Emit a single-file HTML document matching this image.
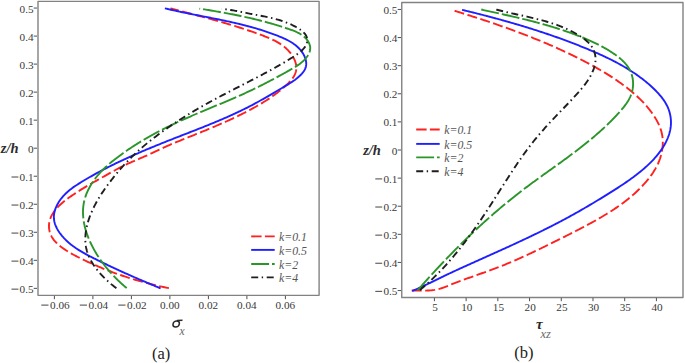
<!DOCTYPE html>
<html><head><meta charset="utf-8"><style>
html,body{margin:0;padding:0;background:#fff;}
svg{display:block;}
text{font-family:"Liberation Serif", serif;}
</style></head><body>
<svg width="685" height="363" viewBox="0 0 685 363">
<rect width="685" height="363" fill="#fff"/><g fill="#3a3a3a">
<rect x="38.0" y="1.4" width="281.1" height="293.95" fill="none" stroke="#828282" stroke-width="1.4" stroke-linejoin="round"/>
<line x1="33.70" y1="288.35" x2="37.00" y2="288.35" stroke="#505050" stroke-width="1"/>
<text x="33.60" y="292.95" font-size="11.2" text-anchor="end" >0.5</text>
<line x1="11.50" y1="289.15" x2="18.40" y2="289.15" stroke="#3a3a3a" stroke-width="0.95"/>
<line x1="33.70" y1="260.32" x2="37.00" y2="260.32" stroke="#505050" stroke-width="1"/>
<text x="33.60" y="264.92" font-size="11.2" text-anchor="end" >0.4</text>
<line x1="11.50" y1="261.12" x2="18.40" y2="261.12" stroke="#3a3a3a" stroke-width="0.95"/>
<line x1="33.70" y1="232.29" x2="37.00" y2="232.29" stroke="#505050" stroke-width="1"/>
<text x="33.60" y="236.89" font-size="11.2" text-anchor="end" >0.3</text>
<line x1="11.50" y1="233.09" x2="18.40" y2="233.09" stroke="#3a3a3a" stroke-width="0.95"/>
<line x1="33.70" y1="204.26" x2="37.00" y2="204.26" stroke="#505050" stroke-width="1"/>
<text x="33.60" y="208.86" font-size="11.2" text-anchor="end" >0.2</text>
<line x1="11.50" y1="205.06" x2="18.40" y2="205.06" stroke="#3a3a3a" stroke-width="0.95"/>
<line x1="33.70" y1="176.23" x2="37.00" y2="176.23" stroke="#505050" stroke-width="1"/>
<text x="33.60" y="180.83" font-size="11.2" text-anchor="end" >0.1</text>
<line x1="11.50" y1="177.03" x2="18.40" y2="177.03" stroke="#3a3a3a" stroke-width="0.95"/>
<line x1="33.70" y1="148.20" x2="37.00" y2="148.20" stroke="#505050" stroke-width="1"/>
<text x="33.60" y="152.80" font-size="11.2" text-anchor="end" >0</text>
<line x1="33.70" y1="120.17" x2="37.00" y2="120.17" stroke="#505050" stroke-width="1"/>
<text x="33.60" y="124.77" font-size="11.2" text-anchor="end" >0.1</text>
<line x1="33.70" y1="92.14" x2="37.00" y2="92.14" stroke="#505050" stroke-width="1"/>
<text x="33.60" y="96.74" font-size="11.2" text-anchor="end" >0.2</text>
<line x1="33.70" y1="64.11" x2="37.00" y2="64.11" stroke="#505050" stroke-width="1"/>
<text x="33.60" y="68.71" font-size="11.2" text-anchor="end" >0.3</text>
<line x1="33.70" y1="36.08" x2="37.00" y2="36.08" stroke="#505050" stroke-width="1"/>
<text x="33.60" y="40.68" font-size="11.2" text-anchor="end" >0.4</text>
<line x1="33.70" y1="8.05" x2="37.00" y2="8.05" stroke="#505050" stroke-width="1"/>
<text x="33.60" y="12.65" font-size="11.2" text-anchor="end" >0.5</text>
<line x1="54.40" y1="295.90" x2="54.40" y2="299.20" stroke="#505050" stroke-width="1"/>
<line x1="41.30" y1="305.10" x2="48.50" y2="305.10" stroke="#3a3a3a" stroke-width="0.95"/>
<text x="59.85" y="308.70" font-size="11.2" text-anchor="middle" >0.06</text>
<line x1="92.90" y1="295.90" x2="92.90" y2="299.20" stroke="#505050" stroke-width="1"/>
<line x1="79.80" y1="305.10" x2="87.00" y2="305.10" stroke="#3a3a3a" stroke-width="0.95"/>
<text x="98.35" y="308.70" font-size="11.2" text-anchor="middle" >0.04</text>
<line x1="131.40" y1="295.90" x2="131.40" y2="299.20" stroke="#505050" stroke-width="1"/>
<line x1="118.30" y1="305.10" x2="125.50" y2="305.10" stroke="#3a3a3a" stroke-width="0.95"/>
<text x="136.85" y="308.70" font-size="11.2" text-anchor="middle" >0.02</text>
<line x1="169.90" y1="295.90" x2="169.90" y2="299.20" stroke="#505050" stroke-width="1"/>
<text x="169.80" y="308.70" font-size="11.2" text-anchor="middle" >0.00</text>
<line x1="208.40" y1="295.90" x2="208.40" y2="299.20" stroke="#505050" stroke-width="1"/>
<text x="208.30" y="308.70" font-size="11.2" text-anchor="middle" >0.02</text>
<line x1="246.90" y1="295.90" x2="246.90" y2="299.20" stroke="#505050" stroke-width="1"/>
<text x="246.80" y="308.70" font-size="11.2" text-anchor="middle" >0.04</text>
<line x1="285.40" y1="295.90" x2="285.40" y2="299.20" stroke="#505050" stroke-width="1"/>
<text x="285.30" y="308.70" font-size="11.2" text-anchor="middle" >0.06</text>
<rect x="401.75" y="2.55" width="281.25" height="294.95" fill="none" stroke="#828282" stroke-width="1.4" stroke-linejoin="round"/>
<line x1="397.70" y1="290.55" x2="401.00" y2="290.55" stroke="#505050" stroke-width="1"/>
<text x="397.40" y="295.15" font-size="11.2" text-anchor="end" >0.5</text>
<line x1="375.30" y1="291.35" x2="382.20" y2="291.35" stroke="#3a3a3a" stroke-width="0.95"/>
<line x1="397.70" y1="262.44" x2="401.00" y2="262.44" stroke="#505050" stroke-width="1"/>
<text x="397.40" y="267.04" font-size="11.2" text-anchor="end" >0.4</text>
<line x1="375.30" y1="263.24" x2="382.20" y2="263.24" stroke="#3a3a3a" stroke-width="0.95"/>
<line x1="397.70" y1="234.33" x2="401.00" y2="234.33" stroke="#505050" stroke-width="1"/>
<text x="397.40" y="238.93" font-size="11.2" text-anchor="end" >0.3</text>
<line x1="375.30" y1="235.13" x2="382.20" y2="235.13" stroke="#3a3a3a" stroke-width="0.95"/>
<line x1="397.70" y1="206.22" x2="401.00" y2="206.22" stroke="#505050" stroke-width="1"/>
<text x="397.40" y="210.82" font-size="11.2" text-anchor="end" >0.2</text>
<line x1="375.30" y1="207.02" x2="382.20" y2="207.02" stroke="#3a3a3a" stroke-width="0.95"/>
<line x1="397.70" y1="178.11" x2="401.00" y2="178.11" stroke="#505050" stroke-width="1"/>
<text x="397.40" y="182.71" font-size="11.2" text-anchor="end" >0.1</text>
<line x1="375.30" y1="178.91" x2="382.20" y2="178.91" stroke="#3a3a3a" stroke-width="0.95"/>
<line x1="397.70" y1="150.00" x2="401.00" y2="150.00" stroke="#505050" stroke-width="1"/>
<text x="397.40" y="154.60" font-size="11.2" text-anchor="end" >0</text>
<line x1="397.70" y1="121.89" x2="401.00" y2="121.89" stroke="#505050" stroke-width="1"/>
<text x="397.40" y="126.49" font-size="11.2" text-anchor="end" >0.1</text>
<line x1="397.70" y1="93.78" x2="401.00" y2="93.78" stroke="#505050" stroke-width="1"/>
<text x="397.40" y="98.38" font-size="11.2" text-anchor="end" >0.2</text>
<line x1="397.70" y1="65.67" x2="401.00" y2="65.67" stroke="#505050" stroke-width="1"/>
<text x="397.40" y="70.27" font-size="11.2" text-anchor="end" >0.3</text>
<line x1="397.70" y1="37.56" x2="401.00" y2="37.56" stroke="#505050" stroke-width="1"/>
<text x="397.40" y="42.16" font-size="11.2" text-anchor="end" >0.4</text>
<line x1="397.70" y1="9.45" x2="401.00" y2="9.45" stroke="#505050" stroke-width="1"/>
<text x="397.40" y="14.05" font-size="11.2" text-anchor="end" >0.5</text>
<line x1="434.41" y1="297.90" x2="434.41" y2="301.20" stroke="#505050" stroke-width="1"/>
<text x="435.01" y="311.20" font-size="11.2" text-anchor="middle" >5</text>
<line x1="466.13" y1="297.90" x2="466.13" y2="301.20" stroke="#505050" stroke-width="1"/>
<text x="466.73" y="311.20" font-size="11.2" text-anchor="middle" >10</text>
<line x1="497.84" y1="297.90" x2="497.84" y2="301.20" stroke="#505050" stroke-width="1"/>
<text x="498.44" y="311.20" font-size="11.2" text-anchor="middle" >15</text>
<line x1="529.56" y1="297.90" x2="529.56" y2="301.20" stroke="#505050" stroke-width="1"/>
<text x="530.16" y="311.20" font-size="11.2" text-anchor="middle" >20</text>
<line x1="561.27" y1="297.90" x2="561.27" y2="301.20" stroke="#505050" stroke-width="1"/>
<text x="561.88" y="311.20" font-size="11.2" text-anchor="middle" >25</text>
<line x1="592.99" y1="297.90" x2="592.99" y2="301.20" stroke="#505050" stroke-width="1"/>
<text x="593.59" y="311.20" font-size="11.2" text-anchor="middle" >30</text>
<line x1="624.70" y1="297.90" x2="624.70" y2="301.20" stroke="#505050" stroke-width="1"/>
<text x="625.30" y="311.20" font-size="11.2" text-anchor="middle" >35</text>
<line x1="656.42" y1="297.90" x2="656.42" y2="301.20" stroke="#505050" stroke-width="1"/>
<text x="657.02" y="311.20" font-size="11.2" text-anchor="middle" >40</text>
<text x="0.8" y="153.4" font-size="14.5" font-weight="bold" font-style="italic" fill="#2c2c2c">z/h</text>
<text x="363.2" y="155" font-size="14.5" font-weight="bold" font-style="italic" fill="#2c2c2c">z/h</text>
<g transform="translate(176.2,323.9) skewX(-8)"><ellipse cx="0" cy="0.1" rx="3.15" ry="2.95" fill="none" stroke="#2a2a2a" stroke-width="1.55"/><path d="M0.2,-3.35 L5.8,-3.55" stroke="#2a2a2a" stroke-width="1.5"/></g>
<text x="179.4" y="334.5" font-size="11.5" font-style="italic" fill="#666">x</text>
<text x="536.0" y="329" font-size="15" font-weight="bold" font-style="italic" fill="#2a2a2a">τ</text>
<text x="540.5" y="337.6" font-size="12.5" font-style="italic" fill="#6a6a6a">xz</text>
<text x="152" y="358.5" font-size="16.5" fill="#222">(a)</text>
<text x="514.2" y="357.5" font-size="16.5" fill="#222">(b)</text>
<line x1="251.20" y1="236.40" x2="274.70" y2="236.40" stroke="#ff2020" stroke-width="1.9" stroke-dasharray="10.4 3.3"/>
<text x="279.00" y="241.10" font-size="11.8" font-style="italic" fill="#555">k=0.1</text>
<line x1="251.20" y1="249.90" x2="274.70" y2="249.90" stroke="#2020ff" stroke-width="1.9"/>
<text x="279.00" y="254.60" font-size="11.8" font-style="italic" fill="#555">k=0.5</text>
<line x1="251.20" y1="264.00" x2="274.70" y2="264.00" stroke="#2a962a" stroke-width="1.9" stroke-dasharray="17.9 2.9"/>
<text x="279.00" y="268.70" font-size="11.8" font-style="italic" fill="#555">k=2</text>
<line x1="251.20" y1="277.40" x2="274.70" y2="277.40" stroke="#1e1e1e" stroke-width="1.9" stroke-dasharray="7 3.5 1.4 3.6"/>
<text x="279.00" y="282.10" font-size="11.8" font-style="italic" fill="#555">k=4</text>
<line x1="416.20" y1="129.50" x2="439.70" y2="129.50" stroke="#ff2020" stroke-width="1.9" stroke-dasharray="10.4 3.3"/>
<text x="444.20" y="134.20" font-size="11.8" font-style="italic" fill="#555">k=0.1</text>
<line x1="416.20" y1="143.90" x2="439.70" y2="143.90" stroke="#2020ff" stroke-width="1.9"/>
<text x="444.20" y="148.60" font-size="11.8" font-style="italic" fill="#555">k=0.5</text>
<line x1="416.20" y1="157.40" x2="439.70" y2="157.40" stroke="#2a962a" stroke-width="1.9" stroke-dasharray="17.9 2.9"/>
<text x="444.20" y="162.10" font-size="11.8" font-style="italic" fill="#555">k=2</text>
<line x1="416.20" y1="171.30" x2="439.70" y2="171.30" stroke="#1e1e1e" stroke-width="1.9" stroke-dasharray="7 3.5 1.4 3.6"/>
<text x="444.20" y="176.00" font-size="11.8" font-style="italic" fill="#555">k=4</text>
</g>
<path d="M168.93,288.18 L167.48,287.88 L166.04,287.58 L164.59,287.27 L163.15,286.96 L161.70,286.64 L160.26,286.32 L158.82,285.99 L157.38,285.65 L155.94,285.31 L154.50,284.97 L153.06,284.61 L151.63,284.26 L150.20,283.90 L148.76,283.53 L147.33,283.16 L145.90,282.78 L144.48,282.39 L143.05,282.01 L141.63,281.61 L140.20,281.21 L138.78,280.81 L137.36,280.39 L135.94,279.98 L134.53,279.56 L133.11,279.13 L131.70,278.69 L130.29,278.26 L128.88,277.81 L127.47,277.36 L126.07,276.90 L124.67,276.44 L123.27,275.98 L121.87,275.50 L120.47,275.02 L119.07,274.54 L117.68,274.05 L116.29,273.55 L114.90,273.05 L113.52,272.54 L112.13,272.03 L110.75,271.51 L109.37,270.98 L107.99,270.45 L106.62,269.92 L105.25,269.37 L103.88,268.83 L102.51,268.27 L101.14,267.71 L99.78,267.14 L98.42,266.57 L97.07,265.99 L95.71,265.41 L94.36,264.82 L93.01,264.22 L91.66,263.62 L90.32,263.01 L88.98,262.39 L87.64,261.77 L86.31,261.15 L84.97,260.51 L83.64,259.87 L82.32,259.23 L80.99,258.58 L79.67,257.92 L78.36,257.26 L77.04,256.59 L75.73,255.91 L74.43,255.22 L73.13,254.52 L71.83,253.81 L70.55,253.08 L69.27,252.33 L68.00,251.57 L66.74,250.78 L65.50,249.98 L64.26,249.15 L63.04,248.29 L61.83,247.40 L60.63,246.49 L59.46,245.54 L58.31,244.57 L57.20,243.55 L56.13,242.50 L55.11,241.41 L54.14,240.28 L53.25,239.11 L52.42,237.89 L51.67,236.62 L51.01,235.31 L50.44,233.96 L49.95,232.57 L49.56,231.16 L49.27,229.73 L49.07,228.28 L48.98,226.82 L48.98,225.37 L49.09,223.91 L49.29,222.47 L49.59,221.05 L49.97,219.65 L50.43,218.29 L50.97,216.96 L51.58,215.66 L52.25,214.39 L52.99,213.16 L53.78,211.95 L54.64,210.77 L55.54,209.61 L56.49,208.49 L57.49,207.39 L58.52,206.31 L59.60,205.26 L60.70,204.23 L61.84,203.22 L63.00,202.24 L64.18,201.27 L65.38,200.33 L66.60,199.40 L67.82,198.49 L69.05,197.59 L70.28,196.71 L71.51,195.85 L72.75,195.00 L73.98,194.16 L75.22,193.34 L76.46,192.53 L77.70,191.73 L78.94,190.94 L80.18,190.16 L81.42,189.39 L82.67,188.63 L83.92,187.87 L85.17,187.12 L86.42,186.38 L87.67,185.65 L88.93,184.92 L90.18,184.19 L91.44,183.47 L92.71,182.76 L93.97,182.04 L95.24,181.32 L96.51,180.61 L97.78,179.90 L99.05,179.18 L100.33,178.47 L101.61,177.75 L102.90,177.03 L104.18,176.31 L105.47,175.59 L106.76,174.86 L108.06,174.12 L109.36,173.39 L110.66,172.65 L111.96,171.91 L113.27,171.18 L114.58,170.46 L115.90,169.73 L117.21,169.02 L118.53,168.31 L119.85,167.62 L121.18,166.94 L122.51,166.27 L123.84,165.62 L125.17,164.98 L126.51,164.35 L127.84,163.73 L129.18,163.13 L130.52,162.53 L131.86,161.94 L133.21,161.36 L134.55,160.78 L135.90,160.20 L137.24,159.63 L138.59,159.06 L139.93,158.48 L141.28,157.91 L142.62,157.33 L143.97,156.74 L145.31,156.15 L146.66,155.55 L148.00,154.94 L149.34,154.33 L150.68,153.71 L152.02,153.09 L153.36,152.46 L154.70,151.83 L156.03,151.20 L157.37,150.57 L158.71,149.94 L160.05,149.31 L161.39,148.68 L162.73,148.05 L164.08,147.43 L165.42,146.82 L166.77,146.21 L168.11,145.60 L169.46,145.01 L170.81,144.42 L172.16,143.85 L173.52,143.28 L174.87,142.72 L176.23,142.16 L177.59,141.61 L178.95,141.06 L180.31,140.51 L181.67,139.96 L183.04,139.42 L184.40,138.87 L185.77,138.32 L187.13,137.77 L188.50,137.22 L189.87,136.68 L191.24,136.13 L192.61,135.58 L193.98,135.02 L195.35,134.47 L196.72,133.92 L198.09,133.37 L199.46,132.81 L200.83,132.25 L202.20,131.69 L203.57,131.13 L204.94,130.57 L206.30,130.01 L207.67,129.44 L209.04,128.88 L210.41,128.31 L211.77,127.73 L213.14,127.16 L214.50,126.58 L215.86,126.00 L217.22,125.42 L218.58,124.83 L219.94,124.24 L221.30,123.65 L222.65,123.06 L224.00,122.46 L225.35,121.85 L226.70,121.25 L228.05,120.64 L229.40,120.03 L230.74,119.41 L232.08,118.79 L233.42,118.16 L234.75,117.53 L236.08,116.89 L237.41,116.25 L238.74,115.61 L240.07,114.96 L241.39,114.31 L242.70,113.65 L244.02,112.98 L245.33,112.31 L246.64,111.64 L247.94,110.96 L249.24,110.27 L250.54,109.58 L251.83,108.88 L253.12,108.18 L254.41,107.47 L255.69,106.75 L256.97,106.03 L258.24,105.30 L259.51,104.56 L260.77,103.81 L262.03,103.06 L263.28,102.30 L264.53,101.53 L265.77,100.75 L267.01,99.96 L268.24,99.16 L269.47,98.35 L270.69,97.52 L271.90,96.68 L273.11,95.83 L274.31,94.97 L275.51,94.09 L276.69,93.20 L277.87,92.29 L279.05,91.37 L280.21,90.43 L281.37,89.47 L282.52,88.50 L283.66,87.51 L284.79,86.50 L285.92,85.47 L287.04,84.42 L288.14,83.36 L289.21,82.27 L290.25,81.15 L291.24,80.01 L292.17,78.84 L293.04,77.65 L293.82,76.42 L294.52,75.17 L295.11,73.88 L295.60,72.55 L295.97,71.20 L296.21,69.83 L296.34,68.44 L296.34,67.05 L296.22,65.66 L295.99,64.27 L295.65,62.89 L295.22,61.51 L294.69,60.15 L294.08,58.80 L293.39,57.48 L292.62,56.18 L291.79,54.91 L290.90,53.67 L289.95,52.47 L288.96,51.30 L287.93,50.18 L286.85,49.11 L285.75,48.08 L284.63,47.11 L283.47,46.17 L282.29,45.28 L281.08,44.43 L279.85,43.62 L278.61,42.85 L277.34,42.10 L276.05,41.39 L274.75,40.71 L273.43,40.05 L272.10,39.42 L270.75,38.81 L269.40,38.22 L268.03,37.64 L266.66,37.09 L265.28,36.54 L263.90,36.01 L262.51,35.48 L261.12,34.96 L259.73,34.45 L258.34,33.94 L256.95,33.43 L255.55,32.93 L254.16,32.44 L252.76,31.95 L251.37,31.46 L249.97,30.98 L248.57,30.50 L247.17,30.03 L245.77,29.56 L244.36,29.10 L242.96,28.64 L241.56,28.18 L240.15,27.73 L238.74,27.28 L237.34,26.83 L235.93,26.39 L234.52,25.95 L233.11,25.52 L231.70,25.09 L230.28,24.66 L228.87,24.23 L227.46,23.81 L226.04,23.39 L224.63,22.97 L223.21,22.56 L221.79,22.15 L220.37,21.74 L218.96,21.34 L217.54,20.93 L216.12,20.53 L214.70,20.13 L213.28,19.73 L211.85,19.34 L210.43,18.95 L209.01,18.56 L207.58,18.17 L206.16,17.78 L204.73,17.39 L203.31,17.01 L201.88,16.63 L200.46,16.24 L199.03,15.86 L197.60,15.49 L196.17,15.11 L194.75,14.73 L193.32,14.35 L191.89,13.98 L190.46,13.60 L189.03,13.23 L187.60,12.86 L186.17,12.48 L184.74,12.11 L183.31,11.74 L181.87,11.36 L180.44,10.99 L179.01,10.62 L177.58,10.25 L176.15,9.87 L174.71,9.50 L173.28,9.13 L171.85,8.75 L170.42,8.38" fill="none" stroke="#ff2020" stroke-width="1.9" stroke-dasharray="10 3.5"/>
<path d="M160.61,288.35 L159.22,287.78 L157.83,287.20 L156.44,286.63 L155.06,286.05 L153.67,285.47 L152.29,284.89 L150.91,284.31 L149.52,283.73 L148.14,283.15 L146.77,282.57 L145.39,281.98 L144.01,281.39 L142.64,280.81 L141.27,280.22 L139.90,279.63 L138.53,279.04 L137.16,278.44 L135.79,277.85 L134.42,277.25 L133.06,276.65 L131.69,276.05 L130.33,275.45 L128.97,274.85 L127.60,274.24 L126.24,273.63 L124.88,273.02 L123.53,272.41 L122.17,271.80 L120.81,271.18 L119.46,270.56 L118.10,269.94 L116.75,269.32 L115.39,268.69 L114.04,268.06 L112.69,267.43 L111.34,266.80 L109.99,266.16 L108.64,265.52 L107.29,264.88 L105.94,264.23 L104.60,263.59 L103.25,262.94 L101.90,262.28 L100.56,261.62 L99.21,260.97 L97.87,260.30 L96.52,259.64 L95.18,258.97 L93.84,258.29 L92.49,257.62 L91.15,256.93 L89.82,256.25 L88.48,255.55 L87.16,254.85 L85.83,254.13 L84.52,253.41 L83.21,252.67 L81.92,251.92 L80.63,251.15 L79.35,250.37 L78.09,249.58 L76.84,248.76 L75.60,247.93 L74.38,247.08 L73.17,246.20 L71.98,245.31 L70.81,244.39 L69.66,243.45 L68.52,242.48 L67.41,241.49 L66.32,240.46 L65.26,239.41 L64.21,238.33 L63.19,237.22 L62.20,236.08 L61.24,234.90 L60.31,233.70 L59.42,232.46 L58.58,231.20 L57.78,229.92 L57.05,228.61 L56.37,227.28 L55.77,225.93 L55.23,224.56 L54.78,223.18 L54.41,221.78 L54.13,220.37 L53.95,218.96 L53.86,217.53 L53.88,216.09 L54.00,214.66 L54.22,213.22 L54.52,211.78 L54.91,210.35 L55.38,208.93 L55.92,207.53 L56.54,206.13 L57.22,204.76 L57.96,203.41 L58.76,202.08 L59.61,200.78 L60.50,199.52 L61.44,198.28 L62.41,197.09 L63.42,195.93 L64.45,194.82 L65.51,193.75 L66.59,192.71 L67.70,191.71 L68.83,190.74 L69.98,189.80 L71.15,188.89 L72.33,188.01 L73.53,187.14 L74.74,186.30 L75.97,185.48 L77.20,184.67 L78.45,183.87 L79.70,183.09 L80.96,182.31 L82.22,181.54 L83.48,180.78 L84.75,180.02 L86.03,179.26 L87.30,178.51 L88.58,177.77 L89.87,177.03 L91.15,176.30 L92.44,175.57 L93.73,174.85 L95.03,174.13 L96.33,173.41 L97.63,172.70 L98.94,172.00 L100.25,171.30 L101.56,170.60 L102.87,169.91 L104.19,169.22 L105.51,168.54 L106.83,167.86 L108.16,167.19 L109.49,166.52 L110.82,165.85 L112.15,165.19 L113.48,164.53 L114.82,163.87 L116.16,163.22 L117.51,162.58 L118.85,161.93 L120.20,161.29 L121.55,160.66 L122.90,160.02 L124.25,159.39 L125.61,158.77 L126.97,158.15 L128.33,157.53 L129.69,156.91 L131.05,156.30 L132.42,155.69 L133.79,155.08 L135.16,154.47 L136.53,153.87 L137.90,153.27 L139.27,152.68 L140.65,152.09 L142.02,151.49 L143.40,150.91 L144.78,150.32 L146.16,149.74 L147.54,149.16 L148.93,148.58 L150.31,148.00 L151.70,147.43 L153.08,146.85 L154.47,146.28 L155.86,145.72 L157.25,145.15 L158.64,144.58 L160.03,144.02 L161.42,143.46 L162.81,142.90 L164.20,142.34 L165.60,141.79 L166.99,141.23 L168.38,140.68 L169.78,140.13 L171.17,139.58 L172.57,139.03 L173.97,138.48 L175.36,137.93 L176.76,137.39 L178.16,136.84 L179.55,136.29 L180.95,135.75 L182.34,135.21 L183.74,134.66 L185.14,134.12 L186.53,133.58 L187.93,133.03 L189.32,132.49 L190.72,131.95 L192.11,131.40 L193.51,130.86 L194.90,130.31 L196.29,129.77 L197.69,129.22 L199.08,128.67 L200.47,128.12 L201.86,127.57 L203.25,127.02 L204.63,126.47 L206.02,125.91 L207.41,125.35 L208.79,124.79 L210.17,124.23 L211.56,123.67 L212.94,123.10 L214.32,122.53 L215.69,121.96 L217.07,121.39 L218.44,120.81 L219.82,120.23 L221.19,119.65 L222.56,119.06 L223.93,118.47 L225.29,117.88 L226.66,117.28 L228.02,116.68 L229.38,116.07 L230.74,115.46 L232.09,114.85 L233.45,114.23 L234.80,113.61 L236.15,112.98 L237.50,112.35 L238.84,111.71 L240.18,111.07 L241.52,110.42 L242.86,109.77 L244.19,109.11 L245.53,108.45 L246.86,107.78 L248.18,107.10 L249.50,106.42 L250.82,105.73 L252.14,105.04 L253.46,104.34 L254.77,103.64 L256.08,102.93 L257.39,102.21 L258.69,101.49 L260.00,100.77 L261.30,100.04 L262.60,99.31 L263.90,98.57 L265.20,97.83 L266.49,97.09 L267.79,96.34 L269.08,95.59 L270.38,94.83 L271.67,94.08 L272.97,93.32 L274.26,92.56 L275.55,91.80 L276.85,91.03 L278.14,90.27 L279.44,89.50 L280.73,88.73 L282.03,87.96 L283.33,87.19 L284.63,86.42 L285.93,85.65 L287.22,84.87 L288.52,84.09 L289.80,83.29 L291.08,82.48 L292.35,81.65 L293.60,80.79 L294.83,79.91 L296.04,79.00 L297.23,78.05 L298.40,77.07 L299.53,76.04 L300.64,74.97 L301.71,73.84 L302.72,72.67 L303.64,71.46 L304.45,70.21 L305.12,68.93 L305.63,67.61 L305.97,66.26 L306.17,64.89 L306.22,63.51 L306.14,62.11 L305.93,60.72 L305.60,59.33 L305.16,57.95 L304.62,56.58 L303.98,55.24 L303.26,53.92 L302.46,52.64 L301.59,51.40 L300.66,50.21 L299.68,49.07 L298.65,47.99 L297.58,46.96 L296.47,45.98 L295.32,45.04 L294.13,44.15 L292.91,43.30 L291.66,42.49 L290.39,41.72 L289.08,40.98 L287.76,40.27 L286.41,39.59 L285.05,38.94 L283.67,38.31 L282.28,37.70 L280.89,37.10 L279.48,36.53 L278.08,35.96 L276.67,35.41 L275.25,34.86 L273.84,34.33 L272.43,33.80 L271.01,33.29 L269.59,32.78 L268.17,32.29 L266.75,31.80 L265.33,31.32 L263.90,30.86 L262.48,30.40 L261.05,29.94 L259.62,29.50 L258.19,29.06 L256.75,28.64 L255.32,28.21 L253.88,27.80 L252.45,27.39 L251.01,27.00 L249.57,26.60 L248.13,26.22 L246.69,25.84 L245.25,25.46 L243.80,25.09 L242.36,24.73 L240.91,24.38 L239.46,24.02 L238.01,23.68 L236.56,23.34 L235.11,23.00 L233.66,22.67 L232.21,22.34 L230.75,22.01 L229.30,21.69 L227.84,21.38 L226.39,21.06 L224.93,20.75 L223.47,20.45 L222.02,20.14 L220.56,19.84 L219.10,19.54 L217.64,19.25 L216.17,18.95 L214.71,18.66 L213.25,18.37 L211.79,18.08 L210.33,17.79 L208.86,17.50 L207.40,17.21 L205.93,16.93 L204.47,16.64 L203.00,16.35 L201.54,16.07 L200.07,15.78 L198.60,15.50 L197.14,15.21 L195.67,14.92 L194.20,14.63 L192.74,14.34 L191.27,14.05 L189.80,13.76 L188.34,13.46 L186.87,13.16 L185.40,12.86 L183.93,12.56 L182.47,12.26 L181.00,11.95 L179.53,11.64 L178.07,11.33 L176.60,11.01 L175.13,10.69 L173.67,10.36 L172.20,10.03 L170.74,9.70 L169.27,9.36 L167.81,9.02 L166.34,8.67 L164.88,8.32" fill="none" stroke="#2020ff" stroke-width="1.9"/>
<path d="M126.65,288.15 L125.69,287.32 L124.73,286.49 L123.78,285.65 L122.84,284.81 L121.90,283.96 L120.97,283.10 L120.05,282.23 L119.13,281.36 L118.21,280.49 L117.31,279.60 L116.41,278.71 L115.52,277.81 L114.63,276.91 L113.76,276.00 L112.89,275.08 L112.03,274.15 L111.17,273.22 L110.33,272.28 L109.49,271.34 L108.66,270.38 L107.84,269.42 L107.03,268.46 L106.23,267.48 L105.43,266.50 L104.65,265.51 L103.88,264.51 L103.11,263.51 L102.36,262.50 L101.61,261.48 L100.88,260.45 L100.15,259.42 L99.44,258.38 L98.74,257.33 L98.05,256.27 L97.37,255.21 L96.70,254.13 L96.04,253.05 L95.39,251.97 L94.76,250.87 L94.13,249.77 L93.52,248.65 L92.93,247.53 L92.34,246.41 L91.77,245.27 L91.21,244.13 L90.66,242.97 L90.13,241.81 L89.61,240.65 L89.10,239.47 L88.61,238.29 L88.14,237.10 L87.69,235.91 L87.25,234.71 L86.83,233.51 L86.43,232.30 L86.04,231.08 L85.68,229.86 L85.34,228.64 L85.02,227.42 L84.72,226.19 L84.44,224.95 L84.18,223.72 L83.95,222.48 L83.74,221.24 L83.56,220.00 L83.40,218.76 L83.26,217.52 L83.16,216.27 L83.08,215.03 L83.02,213.79 L83.00,212.54 L83.00,211.30 L83.03,210.06 L83.09,208.82 L83.19,207.58 L83.31,206.34 L83.47,205.11 L83.65,203.88 L83.87,202.65 L84.13,201.43 L84.41,200.20 L84.73,198.99 L85.09,197.78 L85.47,196.57 L85.89,195.37 L86.34,194.18 L86.82,192.99 L87.33,191.81 L87.86,190.64 L88.42,189.48 L89.01,188.33 L89.62,187.19 L90.25,186.06 L90.90,184.94 L91.58,183.84 L92.28,182.75 L92.99,181.67 L93.72,180.60 L94.47,179.56 L95.24,178.52 L96.02,177.51 L96.82,176.51 L97.63,175.52 L98.45,174.55 L99.29,173.60 L100.14,172.66 L101.00,171.73 L101.87,170.82 L102.75,169.92 L103.65,169.03 L104.55,168.16 L105.47,167.29 L106.39,166.44 L107.32,165.60 L108.26,164.77 L109.21,163.95 L110.17,163.13 L111.13,162.33 L112.10,161.53 L113.08,160.74 L114.06,159.96 L115.05,159.18 L116.04,158.41 L117.04,157.65 L118.04,156.89 L119.05,156.14 L120.06,155.39 L121.07,154.64 L122.09,153.90 L123.11,153.17 L124.14,152.44 L125.16,151.72 L126.20,151.00 L127.23,150.29 L128.27,149.58 L129.32,148.87 L130.36,148.17 L131.41,147.48 L132.47,146.79 L133.53,146.10 L134.59,145.42 L135.65,144.74 L136.72,144.07 L137.79,143.40 L138.86,142.74 L139.94,142.08 L141.02,141.43 L142.10,140.77 L143.19,140.13 L144.27,139.49 L145.36,138.85 L146.46,138.21 L147.56,137.58 L148.65,136.96 L149.76,136.34 L150.86,135.72 L151.97,135.10 L153.08,134.49 L154.19,133.89 L155.31,133.28 L156.42,132.69 L157.54,132.09 L158.66,131.50 L159.79,130.91 L160.91,130.33 L162.04,129.75 L163.17,129.17 L164.30,128.60 L165.44,128.02 L166.57,127.46 L167.71,126.89 L168.85,126.33 L169.99,125.78 L171.13,125.22 L172.28,124.67 L173.42,124.12 L174.57,123.58 L175.72,123.04 L176.87,122.50 L178.02,121.96 L179.18,121.43 L180.33,120.90 L181.49,120.37 L182.64,119.85 L183.80,119.33 L184.96,118.81 L186.12,118.30 L187.28,117.78 L188.45,117.27 L189.61,116.76 L190.77,116.26 L191.94,115.75 L193.11,115.25 L194.27,114.75 L195.44,114.25 L196.61,113.75 L197.78,113.26 L198.94,112.76 L200.11,112.27 L201.28,111.78 L202.45,111.29 L203.62,110.80 L204.79,110.31 L205.96,109.82 L207.13,109.33 L208.30,108.85 L209.48,108.36 L210.65,107.88 L211.82,107.39 L212.99,106.91 L214.16,106.42 L215.33,105.94 L216.49,105.45 L217.66,104.97 L218.83,104.48 L220.00,104.00 L221.17,103.51 L222.33,103.02 L223.50,102.54 L224.66,102.05 L225.83,101.56 L226.99,101.07 L228.15,100.58 L229.32,100.08 L230.48,99.59 L231.64,99.09 L232.80,98.59 L233.95,98.10 L235.11,97.59 L236.26,97.09 L237.42,96.59 L238.57,96.08 L239.72,95.57 L240.87,95.06 L242.02,94.55 L243.16,94.03 L244.31,93.51 L245.45,92.99 L246.59,92.47 L247.73,91.94 L248.87,91.41 L250.00,90.87 L251.14,90.34 L252.27,89.80 L253.40,89.25 L254.53,88.71 L255.66,88.16 L256.78,87.61 L257.91,87.05 L259.03,86.50 L260.16,85.93 L261.28,85.37 L262.40,84.80 L263.52,84.23 L264.64,83.66 L265.76,83.08 L266.88,82.51 L268.00,81.92 L269.12,81.34 L270.24,80.75 L271.36,80.16 L272.48,79.57 L273.60,78.97 L274.72,78.37 L275.85,77.77 L276.97,77.16 L278.09,76.55 L279.21,75.94 L280.34,75.33 L281.46,74.71 L282.59,74.09 L283.72,73.46 L284.85,72.84 L285.98,72.21 L287.11,71.58 L288.24,70.94 L289.38,70.30 L290.51,69.66 L291.65,69.01 L292.78,68.36 L293.91,67.70 L295.02,67.02 L296.13,66.34 L297.22,65.63 L298.29,64.91 L299.34,64.17 L300.36,63.40 L301.36,62.61 L302.33,61.80 L303.27,60.95 L304.18,60.08 L305.04,59.17 L305.86,58.22 L306.64,57.24 L307.37,56.22 L308.04,55.16 L308.65,54.08 L309.16,52.97 L309.59,51.84 L309.92,50.70 L310.13,49.54 L310.22,48.38 L310.18,47.21 L310.00,46.05 L309.72,44.90 L309.32,43.77 L308.83,42.67 L308.25,41.60 L307.59,40.57 L306.87,39.58 L306.08,38.65 L305.25,37.77 L304.36,36.94 L303.42,36.16 L302.45,35.42 L301.43,34.71 L300.37,34.05 L299.28,33.42 L298.15,32.82 L297.00,32.26 L295.83,31.72 L294.63,31.20 L293.42,30.71 L292.19,30.23 L290.95,29.77 L289.71,29.33 L288.46,28.90 L287.20,28.48 L285.95,28.06 L284.71,27.65 L283.46,27.24 L282.22,26.84 L280.98,26.45 L279.74,26.06 L278.51,25.68 L277.27,25.30 L276.04,24.92 L274.81,24.56 L273.58,24.19 L272.36,23.84 L271.13,23.48 L269.91,23.14 L268.68,22.79 L267.46,22.46 L266.24,22.12 L265.02,21.79 L263.81,21.47 L262.59,21.15 L261.37,20.83 L260.15,20.52 L258.94,20.21 L257.72,19.91 L256.51,19.61 L255.30,19.31 L254.08,19.02 L252.87,18.73 L251.65,18.44 L250.44,18.16 L249.22,17.88 L248.01,17.61 L246.79,17.34 L245.58,17.07 L244.36,16.80 L243.14,16.54 L241.93,16.28 L240.71,16.02 L239.49,15.77 L238.27,15.52 L237.05,15.27 L235.82,15.02 L234.60,14.78 L233.37,14.54 L232.15,14.30 L230.92,14.06 L229.69,13.82 L228.45,13.59 L227.22,13.36 L225.98,13.13 L224.75,12.90 L223.50,12.68 L222.26,12.45 L221.02,12.23 L219.77,12.01 L218.52,11.79 L217.27,11.57 L216.01,11.35 L214.75,11.13 L213.49,10.92 L212.23,10.70 L210.96,10.49 L209.69,10.28 L208.41,10.06 L207.13,9.85 L205.85,9.64 L204.57,9.43 L203.28,9.22 L201.99,9.01 L200.69,8.80 L199.39,8.59" fill="none" stroke="#2a962a" stroke-width="1.9" stroke-dasharray="18 3"/>
<path d="M116.40,288.20 L115.55,287.57 L114.70,286.92 L113.84,286.25 L112.98,285.57 L112.12,284.87 L111.26,284.16 L110.39,283.43 L109.53,282.69 L108.66,281.93 L107.80,281.15 L106.94,280.36 L106.08,279.56 L105.23,278.74 L104.38,277.91 L103.54,277.07 L102.70,276.21 L101.88,275.34 L101.06,274.46 L100.26,273.56 L99.46,272.66 L98.68,271.74 L97.91,270.81 L97.16,269.87 L96.42,268.92 L95.69,267.95 L94.98,266.98 L94.29,266.00 L93.62,265.01 L92.97,264.00 L92.34,262.99 L91.73,261.97 L91.14,260.94 L90.58,259.90 L90.04,258.86 L89.53,257.80 L89.04,256.74 L88.58,255.67 L88.15,254.60 L87.74,253.51 L87.37,252.42 L87.03,251.33 L86.72,250.23 L86.44,249.12 L86.19,248.01 L85.98,246.89 L85.80,245.76 L85.64,244.64 L85.52,243.51 L85.43,242.37 L85.36,241.23 L85.33,240.09 L85.32,238.95 L85.34,237.81 L85.38,236.66 L85.45,235.51 L85.54,234.36 L85.66,233.21 L85.80,232.06 L85.97,230.92 L86.16,229.77 L86.37,228.62 L86.60,227.47 L86.85,226.33 L87.12,225.19 L87.41,224.05 L87.72,222.91 L88.05,221.77 L88.40,220.64 L88.76,219.52 L89.14,218.40 L89.53,217.28 L89.95,216.17 L90.37,215.06 L90.81,213.96 L91.26,212.86 L91.72,211.77 L92.20,210.69 L92.69,209.62 L93.19,208.55 L93.70,207.49 L94.22,206.44 L94.75,205.40 L95.29,204.36 L95.84,203.33 L96.40,202.30 L96.97,201.28 L97.55,200.27 L98.13,199.27 L98.73,198.26 L99.33,197.27 L99.94,196.28 L100.56,195.30 L101.19,194.32 L101.82,193.34 L102.46,192.37 L103.11,191.41 L103.76,190.45 L104.42,189.49 L105.09,188.54 L105.76,187.59 L106.44,186.65 L107.12,185.71 L107.81,184.77 L108.50,183.84 L109.20,182.91 L109.90,181.98 L110.61,181.06 L111.32,180.13 L112.03,179.21 L112.75,178.30 L113.47,177.38 L114.20,176.47 L114.93,175.57 L115.67,174.66 L116.41,173.76 L117.15,172.86 L117.90,171.97 L118.65,171.08 L119.41,170.19 L120.17,169.31 L120.93,168.43 L121.70,167.56 L122.48,166.68 L123.26,165.82 L124.04,164.95 L124.83,164.10 L125.63,163.24 L126.43,162.39 L127.23,161.55 L128.04,160.71 L128.85,159.87 L129.67,159.04 L130.49,158.22 L131.32,157.40 L132.15,156.58 L132.99,155.77 L133.83,154.96 L134.68,154.16 L135.53,153.36 L136.39,152.57 L137.25,151.78 L138.11,151.00 L138.98,150.22 L139.85,149.44 L140.72,148.67 L141.60,147.91 L142.49,147.14 L143.38,146.39 L144.27,145.63 L145.16,144.88 L146.06,144.14 L146.96,143.39 L147.87,142.65 L148.78,141.92 L149.69,141.19 L150.60,140.46 L151.52,139.74 L152.44,139.02 L153.37,138.31 L154.29,137.59 L155.22,136.89 L156.15,136.18 L157.09,135.48 L158.03,134.78 L158.97,134.09 L159.91,133.40 L160.85,132.71 L161.80,132.02 L162.75,131.34 L163.70,130.66 L164.65,129.99 L165.61,129.32 L166.57,128.65 L167.53,127.98 L168.49,127.32 L169.45,126.66 L170.41,126.00 L171.38,125.35 L172.35,124.69 L173.32,124.05 L174.29,123.40 L175.26,122.76 L176.23,122.11 L177.20,121.48 L178.18,120.84 L179.16,120.21 L180.14,119.58 L181.12,118.95 L182.10,118.32 L183.08,117.70 L184.07,117.08 L185.05,116.46 L186.04,115.85 L187.03,115.23 L188.02,114.62 L189.02,114.02 L190.01,113.41 L191.01,112.81 L192.00,112.21 L193.00,111.61 L194.00,111.01 L195.01,110.42 L196.01,109.83 L197.01,109.24 L198.02,108.65 L199.03,108.06 L200.04,107.48 L201.05,106.90 L202.06,106.32 L203.08,105.75 L204.09,105.17 L205.11,104.60 L206.13,104.03 L207.15,103.46 L208.17,102.90 L209.20,102.33 L210.22,101.77 L211.25,101.21 L212.27,100.65 L213.30,100.09 L214.33,99.54 L215.36,98.99 L216.39,98.43 L217.42,97.88 L218.46,97.33 L219.49,96.78 L220.52,96.24 L221.56,95.69 L222.60,95.15 L223.63,94.60 L224.67,94.06 L225.71,93.52 L226.74,92.98 L227.78,92.44 L228.82,91.90 L229.86,91.37 L230.90,90.83 L231.94,90.29 L232.98,89.76 L234.02,89.22 L235.06,88.69 L236.09,88.15 L237.13,87.62 L238.17,87.09 L239.21,86.56 L240.25,86.02 L241.29,85.49 L242.33,84.96 L243.36,84.43 L244.40,83.90 L245.44,83.36 L246.47,82.83 L247.51,82.30 L248.54,81.77 L249.58,81.24 L250.61,80.70 L251.65,80.17 L252.68,79.63 L253.71,79.10 L254.74,78.56 L255.77,78.03 L256.80,77.49 L257.83,76.95 L258.86,76.41 L259.89,75.87 L260.92,75.33 L261.94,74.79 L262.97,74.24 L264.00,73.70 L265.02,73.15 L266.05,72.60 L267.07,72.05 L268.09,71.49 L269.11,70.94 L270.14,70.38 L271.16,69.82 L272.18,69.26 L273.19,68.70 L274.21,68.13 L275.23,67.56 L276.25,66.99 L277.26,66.42 L278.27,65.84 L279.29,65.26 L280.30,64.68 L281.31,64.09 L282.32,63.51 L283.33,62.91 L284.34,62.32 L285.35,61.72 L286.36,61.12 L287.36,60.52 L288.37,59.91 L289.37,59.30 L290.37,58.68 L291.38,58.06 L292.38,57.43 L293.37,56.80 L294.37,56.15 L295.36,55.48 L296.35,54.80 L297.34,54.10 L298.32,53.37 L299.29,52.61 L300.25,51.84 L301.18,51.03 L302.07,50.20 L302.92,49.35 L303.71,48.47 L304.45,47.56 L305.11,46.63 L305.69,45.67 L306.18,44.69 L306.58,43.68 L306.88,42.66 L307.08,41.63 L307.19,40.60 L307.18,39.57 L307.08,38.56 L306.86,37.57 L306.54,36.60 L306.11,35.66 L305.58,34.75 L304.95,33.88 L304.24,33.04 L303.46,32.22 L302.60,31.44 L301.69,30.68 L300.72,29.95 L299.72,29.25 L298.67,28.57 L297.61,27.92 L296.52,27.29 L295.43,26.68 L294.33,26.10 L293.23,25.54 L292.13,25.00 L291.03,24.48 L289.93,23.98 L288.82,23.50 L287.72,23.04 L286.61,22.60 L285.50,22.17 L284.39,21.76 L283.28,21.37 L282.17,20.99 L281.06,20.63 L279.94,20.27 L278.83,19.94 L277.71,19.61 L276.59,19.30 L275.47,19.00 L274.35,18.71 L273.23,18.43 L272.10,18.15 L270.98,17.89 L269.85,17.63 L268.72,17.38 L267.60,17.14 L266.47,16.90 L265.33,16.67 L264.20,16.44 L263.07,16.22 L261.93,16.00 L260.80,15.78 L259.66,15.56 L258.52,15.35 L257.38,15.13 L256.24,14.91 L255.10,14.70 L253.95,14.48 L252.81,14.26 L251.66,14.03 L250.52,13.81 L249.37,13.58 L248.22,13.34 L247.07,13.11 L245.92,12.88 L244.77,12.64 L243.62,12.41 L242.46,12.18 L241.31,11.95 L240.16,11.72 L239.00,11.49 L237.85,11.27 L236.70,11.05 L235.54,10.84 L234.39,10.63 L233.23,10.43 L232.08,10.24 L230.92,10.05 L229.77,9.87 L228.61,9.70 L227.46,9.54 L226.31,9.38 L225.16,9.24 L224.00,9.11 L222.85,8.99 L221.70,8.88" fill="none" stroke="#1e1e1e" stroke-width="1.9" stroke-dasharray="7 3.5 1.5 3.5"/>
<path d="M411.68,290.53 L413.08,290.51 L414.49,290.50 L415.91,290.51 L417.34,290.53 L418.78,290.55 L420.21,290.58 L421.66,290.60 L423.10,290.61 L424.54,290.61 L425.99,290.59 L427.43,290.56 L428.86,290.50 L430.29,290.41 L431.72,290.29 L433.13,290.13 L434.53,289.93 L435.93,289.69 L437.31,289.40 L438.67,289.06 L440.03,288.68 L441.38,288.26 L442.71,287.80 L444.04,287.32 L445.37,286.82 L446.69,286.31 L448.00,285.78 L449.32,285.25 L450.64,284.72 L451.96,284.20 L453.28,283.68 L454.60,283.16 L455.92,282.65 L457.25,282.15 L458.57,281.65 L459.90,281.15 L461.23,280.65 L462.56,280.16 L463.89,279.68 L465.22,279.19 L466.55,278.71 L467.89,278.23 L469.22,277.75 L470.56,277.27 L471.89,276.80 L473.23,276.32 L474.56,275.85 L475.90,275.37 L477.23,274.90 L478.57,274.43 L479.90,273.95 L481.24,273.48 L482.57,273.00 L483.91,272.53 L485.24,272.05 L486.58,271.57 L487.91,271.09 L489.24,270.60 L490.57,270.12 L491.90,269.63 L493.23,269.13 L494.56,268.64 L495.89,268.14 L497.22,267.63 L498.54,267.13 L499.86,266.61 L501.19,266.10 L502.51,265.57 L503.83,265.05 L505.14,264.51 L506.46,263.98 L507.77,263.43 L509.08,262.89 L510.39,262.34 L511.70,261.78 L513.01,261.22 L514.32,260.66 L515.62,260.09 L516.93,259.52 L518.23,258.95 L519.53,258.37 L520.83,257.79 L522.13,257.21 L523.43,256.62 L524.72,256.03 L526.02,255.43 L527.31,254.84 L528.60,254.24 L529.90,253.64 L531.19,253.03 L532.47,252.42 L533.76,251.81 L535.05,251.20 L536.33,250.59 L537.62,249.97 L538.90,249.35 L540.19,248.74 L541.47,248.11 L542.75,247.49 L544.03,246.87 L545.31,246.24 L546.58,245.62 L547.86,244.99 L549.14,244.36 L550.41,243.73 L551.69,243.10 L552.96,242.47 L554.24,241.84 L555.51,241.21 L556.78,240.57 L558.05,239.94 L559.32,239.31 L560.59,238.68 L561.86,238.05 L563.13,237.41 L564.39,236.78 L565.66,236.15 L566.93,235.51 L568.19,234.88 L569.46,234.24 L570.72,233.60 L571.98,232.96 L573.25,232.32 L574.51,231.68 L575.77,231.03 L577.03,230.38 L578.29,229.73 L579.55,229.08 L580.80,228.43 L582.06,227.77 L583.32,227.11 L584.57,226.45 L585.83,225.78 L587.08,225.11 L588.33,224.44 L589.58,223.76 L590.83,223.08 L592.08,222.40 L593.33,221.71 L594.58,221.01 L595.82,220.32 L597.07,219.61 L598.31,218.91 L599.54,218.19 L600.78,217.48 L602.01,216.75 L603.24,216.03 L604.47,215.29 L605.69,214.55 L606.91,213.81 L608.12,213.05 L609.33,212.30 L610.54,211.53 L611.74,210.76 L612.93,209.98 L614.12,209.20 L615.31,208.40 L616.49,207.60 L617.66,206.80 L618.83,205.98 L619.99,205.16 L621.14,204.33 L622.29,203.49 L623.43,202.64 L624.56,201.78 L625.69,200.92 L626.81,200.05 L627.92,199.16 L629.02,198.27 L630.11,197.37 L631.19,196.46 L632.27,195.54 L633.34,194.61 L634.39,193.67 L635.44,192.72 L636.48,191.76 L637.51,190.79 L638.53,189.80 L639.53,188.81 L640.53,187.81 L641.52,186.79 L642.49,185.77 L643.45,184.73 L644.40,183.68 L645.34,182.62 L646.27,181.54 L647.19,180.46 L648.08,179.36 L648.97,178.25 L649.83,177.12 L650.68,175.98 L651.51,174.83 L652.32,173.67 L653.11,172.49 L653.87,171.29 L654.61,170.08 L655.33,168.86 L656.02,167.62 L656.69,166.36 L657.32,165.09 L657.93,163.80 L658.50,162.50 L659.05,161.18 L659.56,159.84 L660.04,158.49 L660.48,157.12 L660.89,155.74 L661.26,154.35 L661.60,152.96 L661.89,151.55 L662.15,150.14 L662.36,148.72 L662.54,147.30 L662.67,145.87 L662.76,144.45 L662.80,143.03 L662.80,141.61 L662.75,140.19 L662.66,138.78 L662.52,137.38 L662.32,135.98 L662.08,134.60 L661.79,133.22 L661.45,131.86 L661.06,130.51 L660.63,129.17 L660.16,127.84 L659.65,126.52 L659.10,125.22 L658.51,123.92 L657.89,122.64 L657.24,121.38 L656.55,120.12 L655.84,118.88 L655.10,117.66 L654.34,116.44 L653.55,115.24 L652.74,114.06 L651.91,112.89 L651.07,111.73 L650.20,110.59 L649.33,109.46 L648.44,108.35 L647.53,107.25 L646.61,106.16 L645.68,105.09 L644.73,104.03 L643.77,102.98 L642.80,101.95 L641.82,100.93 L640.82,99.92 L639.81,98.92 L638.79,97.94 L637.76,96.96 L636.72,96.00 L635.67,95.05 L634.62,94.11 L633.55,93.18 L632.47,92.26 L631.39,91.35 L630.29,90.45 L629.19,89.55 L628.08,88.67 L626.97,87.80 L625.85,86.93 L624.72,86.08 L623.59,85.23 L622.45,84.39 L621.30,83.56 L620.15,82.73 L618.99,81.92 L617.83,81.11 L616.66,80.31 L615.49,79.51 L614.31,78.72 L613.13,77.94 L611.94,77.17 L610.75,76.40 L609.56,75.64 L608.35,74.89 L607.15,74.14 L605.94,73.40 L604.73,72.67 L603.51,71.94 L602.29,71.21 L601.07,70.49 L599.84,69.78 L598.61,69.07 L597.38,68.37 L596.14,67.67 L594.90,66.98 L593.66,66.29 L592.41,65.60 L591.17,64.93 L589.92,64.25 L588.66,63.58 L587.41,62.91 L586.15,62.25 L584.90,61.59 L583.64,60.93 L582.38,60.28 L581.11,59.63 L579.85,58.99 L578.58,58.34 L577.31,57.71 L576.04,57.07 L574.76,56.44 L573.49,55.82 L572.21,55.19 L570.93,54.57 L569.65,53.96 L568.37,53.34 L567.09,52.73 L565.80,52.13 L564.52,51.53 L563.23,50.93 L561.94,50.33 L560.65,49.74 L559.35,49.15 L558.06,48.56 L556.76,47.98 L555.46,47.40 L554.16,46.82 L552.86,46.25 L551.56,45.68 L550.26,45.11 L548.95,44.55 L547.64,43.99 L546.34,43.43 L545.03,42.88 L543.72,42.32 L542.40,41.77 L541.09,41.23 L539.78,40.68 L538.46,40.14 L537.14,39.61 L535.82,39.07 L534.51,38.54 L533.18,38.01 L531.86,37.48 L530.54,36.96 L529.21,36.43 L527.89,35.92 L526.56,35.40 L525.24,34.89 L523.91,34.37 L522.58,33.87 L521.25,33.36 L519.92,32.85 L518.58,32.35 L517.25,31.85 L515.92,31.36 L514.58,30.86 L513.24,30.37 L511.91,29.88 L510.57,29.39 L509.23,28.91 L507.89,28.42 L506.55,27.94 L505.21,27.46 L503.87,26.99 L502.53,26.51 L501.18,26.04 L499.84,25.57 L498.50,25.10 L497.15,24.63 L495.80,24.17 L494.46,23.71 L493.11,23.25 L491.76,22.79 L490.42,22.33 L489.07,21.87 L487.72,21.42 L486.37,20.97 L485.02,20.52 L483.67,20.07 L482.32,19.62 L480.97,19.18 L479.62,18.74 L478.26,18.29 L476.91,17.85 L475.56,17.41 L474.21,16.98 L472.85,16.54 L471.50,16.11 L470.15,15.67 L468.79,15.24 L467.44,14.81 L466.09,14.38 L464.73,13.96 L463.38,13.53 L462.02,13.11 L460.67,12.68 L459.31,12.26 L457.96,11.84 L456.60,11.42 L455.25,11.00 L453.89,10.58 L452.54,10.16 L451.19,9.75" fill="none" stroke="#ff2020" stroke-width="1.9" stroke-dasharray="10 3.5"/>
<path d="M412.26,291.02 L413.56,290.48 L414.85,289.92 L416.14,289.35 L417.43,288.78 L418.71,288.21 L420.00,287.62 L421.28,287.03 L422.56,286.44 L423.84,285.83 L425.12,285.23 L426.40,284.62 L427.68,284.01 L428.95,283.40 L430.23,282.78 L431.50,282.16 L432.78,281.54 L434.05,280.92 L435.33,280.29 L436.60,279.67 L437.88,279.05 L439.15,278.42 L440.43,277.80 L441.71,277.18 L442.99,276.57 L444.27,275.95 L445.55,275.34 L446.83,274.73 L448.12,274.12 L449.40,273.51 L450.69,272.91 L451.97,272.31 L453.26,271.71 L454.55,271.11 L455.84,270.51 L457.13,269.92 L458.42,269.32 L459.71,268.73 L461.00,268.14 L462.29,267.55 L463.59,266.96 L464.88,266.37 L466.18,265.78 L467.47,265.20 L468.76,264.61 L470.06,264.03 L471.36,263.44 L472.65,262.86 L473.95,262.28 L475.24,261.70 L476.54,261.12 L477.84,260.53 L479.13,259.95 L480.43,259.37 L481.73,258.79 L483.02,258.21 L484.32,257.63 L485.62,257.05 L486.91,256.47 L488.21,255.89 L489.51,255.30 L490.80,254.72 L492.10,254.14 L493.39,253.56 L494.69,252.97 L495.99,252.39 L497.28,251.81 L498.57,251.22 L499.87,250.64 L501.16,250.05 L502.46,249.46 L503.75,248.88 L505.04,248.29 L506.33,247.70 L507.63,247.11 L508.92,246.52 L510.21,245.93 L511.50,245.33 L512.79,244.74 L514.08,244.15 L515.36,243.55 L516.65,242.95 L517.94,242.36 L519.23,241.76 L520.51,241.16 L521.80,240.56 L523.08,239.95 L524.37,239.35 L525.65,238.74 L526.93,238.14 L528.21,237.53 L529.49,236.92 L530.77,236.31 L532.05,235.69 L533.33,235.08 L534.61,234.46 L535.88,233.85 L537.16,233.23 L538.43,232.60 L539.71,231.98 L540.98,231.36 L542.25,230.73 L543.52,230.10 L544.79,229.47 L546.06,228.84 L547.32,228.20 L548.59,227.56 L549.85,226.92 L551.12,226.28 L552.38,225.64 L553.64,224.99 L554.90,224.35 L556.16,223.69 L557.42,223.04 L558.67,222.39 L559.93,221.73 L561.18,221.07 L562.43,220.41 L563.68,219.74 L564.93,219.07 L566.18,218.40 L567.43,217.73 L568.67,217.05 L569.92,216.38 L571.16,215.69 L572.40,215.01 L573.64,214.32 L574.88,213.63 L576.11,212.94 L577.35,212.24 L578.58,211.55 L579.81,210.84 L581.04,210.14 L582.27,209.44 L583.49,208.73 L584.72,208.02 L585.94,207.30 L587.17,206.59 L588.39,205.87 L589.61,205.15 L590.83,204.43 L592.04,203.71 L593.26,202.98 L594.47,202.25 L595.69,201.52 L596.90,200.79 L598.11,200.06 L599.32,199.32 L600.53,198.59 L601.73,197.85 L602.94,197.11 L604.14,196.37 L605.35,195.62 L606.55,194.88 L607.75,194.13 L608.95,193.39 L610.14,192.64 L611.34,191.89 L612.54,191.14 L613.73,190.38 L614.92,189.63 L616.11,188.87 L617.30,188.11 L618.48,187.34 L619.67,186.57 L620.84,185.80 L622.02,185.02 L623.19,184.24 L624.37,183.45 L625.53,182.66 L626.70,181.86 L627.85,181.05 L629.01,180.24 L630.16,179.42 L631.31,178.59 L632.45,177.76 L633.59,176.92 L634.72,176.07 L635.85,175.22 L636.97,174.35 L638.09,173.47 L639.20,172.59 L640.31,171.70 L641.41,170.79 L642.50,169.88 L643.59,168.95 L644.67,168.02 L645.74,167.07 L646.80,166.11 L647.86,165.14 L648.90,164.16 L649.93,163.16 L650.94,162.16 L651.95,161.13 L652.94,160.10 L653.91,159.05 L654.88,157.98 L655.82,156.91 L656.75,155.81 L657.66,154.70 L658.55,153.58 L659.42,152.44 L660.27,151.28 L661.10,150.10 L661.91,148.91 L662.70,147.70 L663.46,146.48 L664.19,145.24 L664.90,143.98 L665.58,142.71 L666.23,141.43 L666.84,140.13 L667.42,138.82 L667.96,137.50 L668.47,136.17 L668.93,134.83 L669.35,133.48 L669.72,132.12 L670.05,130.76 L670.33,129.39 L670.56,128.01 L670.74,126.63 L670.87,125.25 L670.94,123.86 L670.97,122.48 L670.95,121.10 L670.87,119.72 L670.75,118.34 L670.57,116.97 L670.34,115.61 L670.07,114.26 L669.74,112.92 L669.37,111.59 L668.94,110.28 L668.47,108.99 L667.95,107.71 L667.38,106.44 L666.77,105.20 L666.11,103.97 L665.41,102.76 L664.67,101.57 L663.89,100.40 L663.08,99.24 L662.24,98.09 L661.37,96.96 L660.46,95.85 L659.53,94.76 L658.58,93.68 L657.60,92.61 L656.61,91.56 L655.59,90.52 L654.56,89.50 L653.52,88.49 L652.46,87.49 L651.39,86.51 L650.32,85.54 L649.23,84.59 L648.14,83.65 L647.05,82.72 L645.94,81.80 L644.83,80.89 L643.71,80.00 L642.58,79.12 L641.44,78.25 L640.30,77.39 L639.15,76.55 L638.00,75.71 L636.84,74.89 L635.67,74.07 L634.50,73.27 L633.32,72.48 L632.13,71.70 L630.94,70.92 L629.74,70.16 L628.54,69.41 L627.33,68.66 L626.12,67.93 L624.90,67.20 L623.68,66.49 L622.45,65.78 L621.22,65.08 L619.98,64.39 L618.74,63.71 L617.49,63.03 L616.24,62.36 L614.99,61.70 L613.73,61.05 L612.47,60.40 L611.20,59.77 L609.93,59.13 L608.66,58.51 L607.38,57.89 L606.10,57.28 L604.82,56.67 L603.53,56.07 L602.24,55.47 L600.95,54.88 L599.66,54.29 L598.36,53.71 L597.06,53.14 L595.76,52.57 L594.46,52.00 L593.16,51.44 L591.85,50.88 L590.54,50.33 L589.23,49.77 L587.92,49.23 L586.61,48.68 L585.30,48.14 L583.98,47.60 L582.67,47.07 L581.35,46.54 L580.03,46.01 L578.71,45.48 L577.39,44.96 L576.07,44.44 L574.75,43.93 L573.42,43.41 L572.10,42.90 L570.77,42.40 L569.44,41.89 L568.12,41.39 L566.79,40.90 L565.46,40.40 L564.12,39.91 L562.79,39.42 L561.46,38.94 L560.12,38.45 L558.79,37.97 L557.45,37.49 L556.11,37.02 L554.77,36.55 L553.43,36.08 L552.09,35.61 L550.75,35.15 L549.41,34.69 L548.07,34.23 L546.72,33.77 L545.38,33.32 L544.03,32.87 L542.68,32.42 L541.33,31.98 L539.99,31.53 L538.64,31.09 L537.28,30.66 L535.93,30.22 L534.58,29.79 L533.23,29.36 L531.87,28.93 L530.52,28.50 L529.16,28.08 L527.81,27.66 L526.45,27.24 L525.09,26.82 L523.73,26.41 L522.37,26.00 L521.01,25.59 L519.65,25.18 L518.29,24.78 L516.93,24.38 L515.57,23.97 L514.20,23.58 L512.84,23.18 L511.48,22.79 L510.11,22.39 L508.74,22.00 L507.38,21.61 L506.01,21.23 L504.64,20.84 L503.27,20.46 L501.91,20.08 L500.54,19.70 L499.17,19.33 L497.80,18.95 L496.43,18.58 L495.05,18.21 L493.68,17.84 L492.31,17.47 L490.94,17.11 L489.56,16.75 L488.19,16.38 L486.82,16.02 L485.44,15.66 L484.07,15.31 L482.69,14.95 L481.31,14.60 L479.94,14.25 L478.56,13.90 L477.18,13.55 L475.81,13.20 L474.43,12.86 L473.05,12.51 L471.67,12.17 L470.30,11.83 L468.92,11.49 L467.54,11.15 L466.16,10.81 L464.78,10.48 L463.40,10.14 L462.02,9.81" fill="none" stroke="#2020ff" stroke-width="1.9"/>
<path d="M417.64,290.27 L418.43,289.37 L419.22,288.47 L420.01,287.57 L420.81,286.67 L421.60,285.77 L422.40,284.87 L423.19,283.98 L423.99,283.08 L424.79,282.19 L425.59,281.29 L426.39,280.40 L427.20,279.51 L428.00,278.62 L428.81,277.73 L429.61,276.84 L430.42,275.95 L431.23,275.06 L432.04,274.18 L432.85,273.29 L433.66,272.41 L434.48,271.52 L435.29,270.64 L436.11,269.76 L436.93,268.88 L437.74,268.00 L438.56,267.12 L439.39,266.24 L440.21,265.37 L441.03,264.49 L441.86,263.62 L442.68,262.75 L443.51,261.87 L444.34,261.00 L445.17,260.13 L446.00,259.27 L446.84,258.40 L447.67,257.53 L448.51,256.67 L449.34,255.80 L450.18,254.94 L451.02,254.08 L451.86,253.22 L452.70,252.36 L453.55,251.50 L454.39,250.65 L455.24,249.79 L456.08,248.94 L456.93,248.09 L457.78,247.24 L458.63,246.39 L459.49,245.54 L460.34,244.69 L461.20,243.84 L462.05,243.00 L462.91,242.16 L463.77,241.32 L464.63,240.47 L465.49,239.64 L466.36,238.80 L467.22,237.96 L468.09,237.13 L468.96,236.29 L469.82,235.46 L470.70,234.63 L471.57,233.80 L472.44,232.97 L473.32,232.15 L474.19,231.32 L475.07,230.50 L475.95,229.68 L476.83,228.86 L477.71,228.04 L478.59,227.22 L479.48,226.41 L480.36,225.59 L481.25,224.78 L482.14,223.97 L483.03,223.16 L483.92,222.36 L484.82,221.55 L485.71,220.75 L486.61,219.94 L487.51,219.14 L488.40,218.34 L489.31,217.54 L490.21,216.75 L491.11,215.95 L492.02,215.16 L492.92,214.37 L493.83,213.58 L494.74,212.79 L495.65,212.01 L496.56,211.23 L497.48,210.44 L498.39,209.66 L499.31,208.88 L500.23,208.11 L501.15,207.33 L502.07,206.56 L502.99,205.79 L503.92,205.02 L504.85,204.25 L505.77,203.49 L506.70,202.72 L507.63,201.96 L508.57,201.20 L509.50,200.44 L510.44,199.68 L511.37,198.93 L512.31,198.18 L513.25,197.43 L514.19,196.68 L515.14,195.93 L516.08,195.19 L517.03,194.45 L517.98,193.70 L518.93,192.97 L519.88,192.23 L520.83,191.49 L521.79,190.76 L522.74,190.03 L523.70,189.30 L524.66,188.58 L525.62,187.85 L526.58,187.13 L527.55,186.41 L528.51,185.69 L529.48,184.97 L530.44,184.25 L531.41,183.54 L532.38,182.83 L533.35,182.11 L534.32,181.40 L535.29,180.69 L536.27,179.98 L537.24,179.28 L538.22,178.57 L539.19,177.86 L540.17,177.16 L541.14,176.45 L542.12,175.75 L543.10,175.05 L544.08,174.34 L545.05,173.64 L546.03,172.94 L547.01,172.24 L547.99,171.53 L548.97,170.83 L549.95,170.13 L550.92,169.43 L551.90,168.73 L552.88,168.03 L553.86,167.33 L554.84,166.62 L555.81,165.92 L556.79,165.22 L557.77,164.51 L558.75,163.81 L559.72,163.11 L560.70,162.40 L561.67,161.69 L562.64,160.99 L563.62,160.28 L564.59,159.57 L565.56,158.86 L566.53,158.15 L567.50,157.44 L568.47,156.72 L569.44,156.01 L570.40,155.29 L571.37,154.57 L572.33,153.85 L573.29,153.13 L574.25,152.41 L575.21,151.68 L576.17,150.95 L577.12,150.23 L578.08,149.49 L579.03,148.76 L579.98,148.03 L580.93,147.29 L581.88,146.55 L582.82,145.81 L583.77,145.06 L584.71,144.31 L585.65,143.56 L586.58,142.81 L587.52,142.06 L588.45,141.30 L589.38,140.54 L590.31,139.77 L591.23,139.00 L592.16,138.23 L593.08,137.46 L593.99,136.68 L594.91,135.90 L595.82,135.12 L596.73,134.33 L597.64,133.54 L598.54,132.75 L599.44,131.95 L600.34,131.15 L601.23,130.34 L602.12,129.53 L603.01,128.72 L603.90,127.90 L604.78,127.08 L605.66,126.25 L606.53,125.42 L607.40,124.59 L608.27,123.75 L609.13,122.91 L609.99,122.06 L610.85,121.21 L611.70,120.35 L612.55,119.49 L613.40,118.62 L614.24,117.75 L615.08,116.87 L615.91,115.99 L616.74,115.10 L617.56,114.21 L618.38,113.31 L619.20,112.41 L620.01,111.50 L620.81,110.58 L621.61,109.66 L622.39,108.73 L623.16,107.79 L623.91,106.85 L624.65,105.89 L625.37,104.93 L626.07,103.95 L626.75,102.97 L627.40,101.97 L628.03,100.96 L628.63,99.94 L629.20,98.90 L629.73,97.86 L630.24,96.79 L630.71,95.72 L631.14,94.63 L631.53,93.52 L631.89,92.40 L632.20,91.25 L632.46,90.10 L632.68,88.92 L632.85,87.73 L632.98,86.53 L633.06,85.32 L633.09,84.10 L633.08,82.88 L633.02,81.66 L632.92,80.45 L632.77,79.23 L632.57,78.03 L632.32,76.84 L632.03,75.67 L631.69,74.51 L631.30,73.38 L630.87,72.27 L630.39,71.18 L629.87,70.12 L629.31,69.08 L628.70,68.07 L628.06,67.08 L627.38,66.11 L626.66,65.16 L625.92,64.24 L625.14,63.33 L624.33,62.45 L623.50,61.58 L622.64,60.74 L621.75,59.91 L620.85,59.10 L619.92,58.31 L618.98,57.53 L618.02,56.77 L617.05,56.02 L616.06,55.29 L615.07,54.58 L614.06,53.87 L613.05,53.18 L612.04,52.51 L611.01,51.84 L609.99,51.19 L608.96,50.55 L607.92,49.92 L606.88,49.30 L605.83,48.69 L604.78,48.09 L603.73,47.50 L602.67,46.92 L601.61,46.35 L600.55,45.79 L599.48,45.24 L598.41,44.69 L597.33,44.16 L596.25,43.63 L595.17,43.11 L594.09,42.59 L593.00,42.08 L591.91,41.58 L590.82,41.08 L589.72,40.59 L588.63,40.11 L587.53,39.62 L586.43,39.15 L585.33,38.68 L584.22,38.21 L583.11,37.75 L582.00,37.29 L580.89,36.84 L579.78,36.40 L578.67,35.95 L577.55,35.52 L576.43,35.08 L575.31,34.65 L574.19,34.23 L573.06,33.81 L571.94,33.40 L570.81,32.98 L569.68,32.58 L568.55,32.18 L567.42,31.78 L566.28,31.38 L565.15,30.99 L564.01,30.61 L562.87,30.22 L561.73,29.84 L560.59,29.47 L559.45,29.10 L558.30,28.73 L557.16,28.36 L556.01,28.00 L554.86,27.65 L553.71,27.29 L552.56,26.94 L551.41,26.59 L550.26,26.25 L549.10,25.91 L547.95,25.57 L546.79,25.24 L545.63,24.90 L544.47,24.58 L543.31,24.25 L542.15,23.93 L540.99,23.61 L539.83,23.29 L538.67,22.97 L537.50,22.66 L536.34,22.35 L535.17,22.04 L534.01,21.74 L532.84,21.43 L531.67,21.13 L530.50,20.84 L529.33,20.54 L528.16,20.25 L526.99,19.95 L525.82,19.66 L524.65,19.38 L523.48,19.09 L522.31,18.80 L521.14,18.52 L519.96,18.24 L518.79,17.96 L517.62,17.68 L516.44,17.41 L515.27,17.13 L514.09,16.86 L512.92,16.59 L511.75,16.32 L510.57,16.05 L509.40,15.78 L508.22,15.51 L507.05,15.25 L505.87,14.98 L504.70,14.72 L503.52,14.45 L502.35,14.19 L501.17,13.93 L500.00,13.67 L498.82,13.41 L497.65,13.15 L496.47,12.89 L495.30,12.63 L494.13,12.37 L492.95,12.12 L491.78,11.86 L490.61,11.60 L489.44,11.34 L488.27,11.09 L487.09,10.83 L485.92,10.57 L484.75,10.32 L483.58,10.06 L482.41,9.80 L481.25,9.54" fill="none" stroke="#2a962a" stroke-width="1.9" stroke-dasharray="18 3"/>
<path d="M419.81,290.11 L420.61,289.44 L421.41,288.77 L422.21,288.10 L423.00,287.42 L423.79,286.74 L424.58,286.06 L425.36,285.37 L426.14,284.68 L426.91,283.99 L427.69,283.30 L428.45,282.60 L429.22,281.90 L429.98,281.20 L430.74,280.49 L431.49,279.78 L432.24,279.07 L432.99,278.35 L433.74,277.64 L434.48,276.92 L435.21,276.19 L435.95,275.47 L436.68,274.74 L437.41,274.01 L438.13,273.28 L438.86,272.54 L439.57,271.80 L440.29,271.06 L441.00,270.32 L441.71,269.57 L442.42,268.83 L443.12,268.08 L443.82,267.32 L444.52,266.57 L445.22,265.81 L445.91,265.05 L446.60,264.29 L447.29,263.52 L447.97,262.76 L448.65,261.99 L449.33,261.21 L450.01,260.44 L450.68,259.66 L451.35,258.89 L452.02,258.11 L452.69,257.32 L453.35,256.54 L454.01,255.75 L454.67,254.97 L455.32,254.18 L455.98,253.38 L456.63,252.59 L457.28,251.79 L457.92,250.99 L458.57,250.19 L459.21,249.39 L459.85,248.59 L460.49,247.78 L461.12,246.97 L461.75,246.17 L462.38,245.35 L463.01,244.54 L463.64,243.73 L464.26,242.91 L464.89,242.09 L465.51,241.27 L466.13,240.45 L466.74,239.63 L467.36,238.81 L467.97,237.98 L468.58,237.15 L469.19,236.32 L469.80,235.49 L470.40,234.66 L471.01,233.83 L471.61,232.99 L472.21,232.16 L472.81,231.32 L473.41,230.48 L474.00,229.64 L474.60,228.80 L475.19,227.96 L475.78,227.11 L476.37,226.27 L476.96,225.42 L477.55,224.58 L478.13,223.73 L478.72,222.88 L479.30,222.03 L479.88,221.18 L480.46,220.32 L481.04,219.47 L481.62,218.61 L482.19,217.76 L482.77,216.90 L483.34,216.04 L483.92,215.18 L484.49,214.32 L485.06,213.46 L485.63,212.60 L486.20,211.74 L486.77,210.88 L487.33,210.01 L487.90,209.15 L488.46,208.28 L489.03,207.42 L489.59,206.55 L490.15,205.68 L490.72,204.81 L491.28,203.95 L491.84,203.08 L492.40,202.21 L492.96,201.34 L493.51,200.47 L494.07,199.59 L494.63,198.72 L495.19,197.85 L495.74,196.98 L496.30,196.10 L496.85,195.23 L497.41,194.36 L497.96,193.48 L498.52,192.61 L499.07,191.73 L499.63,190.86 L500.18,189.99 L500.74,189.11 L501.29,188.24 L501.84,187.36 L502.40,186.49 L502.95,185.62 L503.51,184.74 L504.06,183.87 L504.62,183.00 L505.18,182.12 L505.73,181.25 L506.29,180.38 L506.85,179.51 L507.41,178.64 L507.96,177.77 L508.52,176.90 L509.09,176.03 L509.65,175.16 L510.21,174.29 L510.77,173.43 L511.34,172.56 L511.90,171.69 L512.47,170.83 L513.04,169.97 L513.60,169.11 L514.17,168.24 L514.75,167.38 L515.32,166.53 L515.89,165.67 L516.47,164.81 L517.05,163.96 L517.62,163.10 L518.20,162.25 L518.79,161.40 L519.37,160.55 L519.96,159.70 L520.54,158.86 L521.13,158.01 L521.72,157.17 L522.32,156.33 L522.91,155.49 L523.51,154.65 L524.11,153.81 L524.71,152.98 L525.32,152.15 L525.92,151.32 L526.53,150.49 L527.14,149.66 L527.76,148.84 L528.37,148.02 L528.99,147.20 L529.61,146.38 L530.24,145.56 L530.86,144.75 L531.49,143.94 L532.13,143.13 L532.76,142.33 L533.40,141.52 L534.04,140.72 L534.69,139.92 L535.33,139.13 L535.99,138.34 L536.64,137.55 L537.30,136.76 L537.96,135.97 L538.62,135.19 L539.29,134.41 L539.95,133.63 L540.63,132.86 L541.30,132.08 L541.98,131.31 L542.66,130.54 L543.34,129.77 L544.02,129.01 L544.71,128.24 L545.40,127.48 L546.09,126.72 L546.78,125.96 L547.48,125.21 L548.17,124.45 L548.87,123.69 L549.57,122.94 L550.27,122.19 L550.97,121.44 L551.68,120.69 L552.38,119.94 L553.09,119.19 L553.80,118.44 L554.51,117.69 L555.22,116.94 L555.93,116.20 L556.64,115.45 L557.35,114.71 L558.06,113.96 L558.78,113.21 L559.49,112.47 L560.20,111.72 L560.92,110.98 L561.63,110.23 L562.35,109.49 L563.06,108.74 L563.78,107.99 L564.49,107.25 L565.21,106.50 L565.92,105.75 L566.64,105.00 L567.35,104.25 L568.06,103.50 L568.78,102.75 L569.49,102.00 L570.20,101.25 L570.91,100.49 L571.62,99.74 L572.33,98.98 L573.03,98.22 L573.74,97.46 L574.45,96.70 L575.15,95.93 L575.85,95.17 L576.55,94.40 L577.25,93.63 L577.95,92.86 L578.64,92.08 L579.33,91.31 L580.01,90.52 L580.69,89.74 L581.36,88.95 L582.03,88.15 L582.69,87.35 L583.34,86.54 L583.98,85.72 L584.62,84.90 L585.24,84.07 L585.86,83.24 L586.46,82.40 L587.06,81.54 L587.64,80.68 L588.21,79.81 L588.76,78.93 L589.31,78.04 L589.84,77.14 L590.35,76.23 L590.85,75.31 L591.33,74.38 L591.80,73.43 L592.24,72.48 L592.67,71.51 L593.07,70.54 L593.45,69.56 L593.81,68.57 L594.13,67.58 L594.43,66.58 L594.70,65.58 L594.93,64.58 L595.13,63.58 L595.29,62.57 L595.42,61.57 L595.50,60.57 L595.54,59.57 L595.54,58.58 L595.50,57.59 L595.41,56.60 L595.27,55.63 L595.09,54.66 L594.87,53.70 L594.60,52.75 L594.29,51.81 L593.95,50.88 L593.56,49.97 L593.13,49.08 L592.66,48.20 L592.16,47.34 L591.61,46.50 L591.04,45.67 L590.43,44.87 L589.78,44.09 L589.10,43.34 L588.40,42.60 L587.66,41.89 L586.91,41.19 L586.12,40.51 L585.32,39.85 L584.50,39.21 L583.66,38.58 L582.81,37.97 L581.95,37.37 L581.07,36.78 L580.19,36.21 L579.31,35.65 L578.42,35.09 L577.53,34.55 L576.63,34.02 L575.73,33.50 L574.82,32.99 L573.91,32.49 L573.00,32.00 L572.08,31.51 L571.16,31.04 L570.23,30.58 L569.30,30.12 L568.37,29.68 L567.44,29.24 L566.50,28.81 L565.55,28.39 L564.61,27.98 L563.66,27.57 L562.71,27.18 L561.76,26.79 L560.80,26.41 L559.84,26.03 L558.88,25.67 L557.91,25.31 L556.94,24.95 L555.97,24.61 L555.00,24.27 L554.02,23.93 L553.05,23.60 L552.07,23.28 L551.09,22.97 L550.10,22.66 L549.12,22.35 L548.13,22.05 L547.14,21.76 L546.15,21.47 L545.15,21.18 L544.16,20.90 L543.16,20.63 L542.17,20.35 L541.17,20.09 L540.17,19.82 L539.16,19.56 L538.16,19.31 L537.16,19.05 L536.15,18.80 L535.15,18.56 L534.14,18.31 L533.13,18.07 L532.13,17.83 L531.12,17.60 L530.11,17.36 L529.10,17.13 L528.09,16.90 L527.08,16.67 L526.07,16.45 L525.06,16.22 L524.05,16.00 L523.04,15.78 L522.03,15.55 L521.02,15.33 L520.01,15.11 L519.00,14.89 L517.99,14.67 L516.98,14.45 L515.97,14.23 L514.96,14.01 L513.95,13.79 L512.95,13.56 L511.94,13.34 L510.94,13.12 L509.93,12.89 L508.93,12.66 L507.93,12.44 L506.93,12.21 L505.93,11.97 L504.93,11.74 L503.93,11.50 L502.94,11.27 L501.94,11.03 L500.95,10.78 L499.96,10.54 L498.97,10.29 L497.99,10.03 L497.00,9.78 L496.02,9.52 L495.04,9.26" fill="none" stroke="#1e1e1e" stroke-width="1.9" stroke-dasharray="7 3.5 1.5 3.5"/>
</svg>
</body></html>
